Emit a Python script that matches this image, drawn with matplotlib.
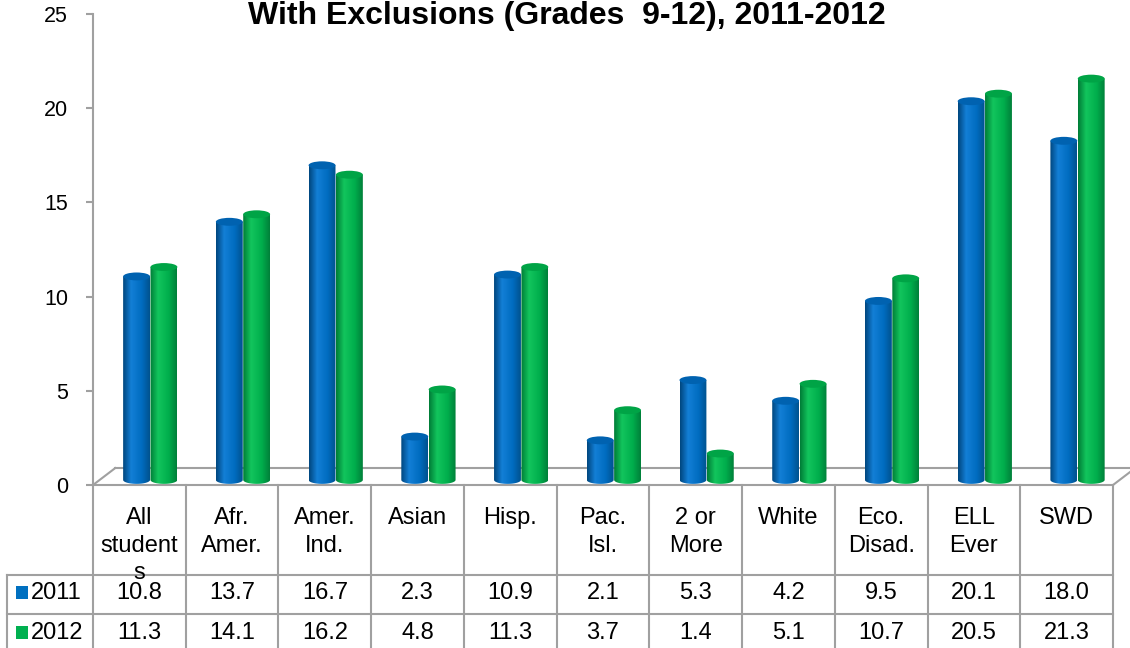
import matplotlib.pyplot as plt
import matplotlib.transforms as mtransforms
from matplotlib.colors import LinearSegmentedColormap
from matplotlib.patches import Ellipse, PathPatch, Rectangle
from matplotlib.path import Path
import numpy as np

plt.rcParams["font.family"] = ["Liberation Sans", "DejaVu Sans"]

title = "With Exclusions (Grades  9-12), 2011-2012"
categories = ["All\nstudent\ns", "Afr.\nAmer.", "Amer.\nInd.", "Asian", "Hisp.",
              "Pac.\nIsl.", "2 or\nMore", "White", "Eco.\nDisad.", "ELL\nEver", "SWD"]
years = ["2011", "2012"]
vals_2011 = [10.8, 13.7, 16.7, 2.3, 10.9, 2.1, 5.3, 4.2, 9.5, 20.1, 18.0]
vals_2012 = [11.3, 14.1, 16.2, 4.8, 11.3, 3.7, 1.4, 5.1, 10.7, 20.5, 21.3]

W, H = 1130, 648
GREY = "#a0a0a0"

# colours: (edge dark, highlight, mid, edge dark), cap colour, legend colour
styles = [
    (["#00477f", "#137fd6", "#006cc0", "#00528f"], "#0062b0", "#0070c0"),
    (["#007d37", "#12c55d", "#00ae4c", "#00803a"], "#00a446", "#00b050"),
]


def cylinder(ax, cx, w, base, top, cmap_cols, cap_col, z):
    h = 0.42
    t = np.linspace(np.pi, 2 * np.pi, 40)
    xs = list(cx + w / 2 * np.cos(t)) + [cx + w / 2, cx - w / 2]
    ys = list(base + h / 2 * np.sin(t)) + [top, top]
    path = Path(np.column_stack([xs, ys]))
    clip = PathPatch(path, transform=ax.transData, facecolor="none", edgecolor="none")
    cmap = LinearSegmentedColormap.from_list("c", list(zip([0, 0.3, 0.7, 1.0], cmap_cols)))
    grad = np.linspace(0, 1, 64).reshape(1, -1)
    im = ax.imshow(grad, cmap=cmap, extent=[cx - w / 2, cx + w / 2, base - h / 2, top],
                   aspect="auto", zorder=z, interpolation="bilinear")
    im.set_clip_path(clip)
    ax.add_patch(Ellipse((cx, top), w, h, facecolor=cap_col, edgecolor="none", zorder=z + 0.5))


fig = plt.figure(figsize=(W / 100, H / 100), dpi=100)

# overlay in pixel coordinates for the data table
tab = fig.add_axes([0, 0, 1, 1])
tab.set_xlim(0, W)
tab.set_ylim(H, 0)
tab.axis("off")

ax = fig.add_axes([93 / W, 1 - 485 / H, 1020 / W, 471 / H])
ax.set_xlim(0, len(categories))
ax.set_ylim(0, 25)
ax.patch.set_alpha(0)
for s in ["top", "right"]:
    ax.spines[s].set_visible(False)
ax.spines["left"].set_color(GREY)
ax.spines["bottom"].set_color(GREY)
ax.spines["left"].set_linewidth(1.5)
ax.spines["bottom"].set_linewidth(1.5)
ax.set_xticks([])
ax.set_yticks(range(0, 26, 5))
ax.tick_params(axis="y", length=5, width=1.5, color=GREY, pad=13, labelsize=15.5)

# floor in perspective
n = len(categories)
dx, dy = 0.24, 0.9
ax.plot([dx, n + dx], [dy, dy], color=GREY, lw=1.5, clip_on=False, zorder=1)
ax.plot([0, dx], [0, dy], color=GREY, lw=1.5, clip_on=False, zorder=1)
ax.plot([n, n + dx], [0, dy], color=GREY, lw=1.5, clip_on=False, zorder=1)

offsets = [0.47, 0.765]
bw = 0.29
lift = 0.27
for k, vals in enumerate([vals_2011, vals_2012]):
    cols, cap, _ = styles[k]
    for i, v in enumerate(vals):
        cylinder(ax, i + offsets[k], bw, lift, v + lift, cols, cap, 3 + k + i * 0.01)

# data table
tr = mtransforms.blended_transform_factory(ax.transData, tab.transData)
for i in range(n + 1):
    tab.plot([i, i], [485, H], color=GREY, lw=1.5, transform=tr, clip_on=False)
for y in [575, 614]:
    tab.plot([7, 1113], [y, y], color=GREY, lw=1.5)
tab.plot([7, 7], [575, H], color=GREY, lw=1.5)

for i, c in enumerate(categories):
    tab.text(i + 0.5, 507, c, transform=tr, ha="center", va="top", fontsize=17,
             linespacing=1.33, zorder=5)

row_y = [593, 633]
for k, vals in enumerate([vals_2011, vals_2012]):
    for i, v in enumerate(vals):
        tab.text(i + 0.5, row_y[k], f"{v:.1f}", transform=tr, ha="center", va="center",
                 fontsize=17)
    tab.add_patch(Rectangle((15.5, row_y[k] - 7), 12, 12.5, facecolor=styles[k][2],
                            edgecolor="none"))
    tab.text(31, row_y[k], years[k], ha="left", va="center", fontsize=17)

tab.text(567, 24, title, ha="center", va="baseline", fontsize=23, fontweight="bold")

fig.savefig("out.png", dpi=100)
